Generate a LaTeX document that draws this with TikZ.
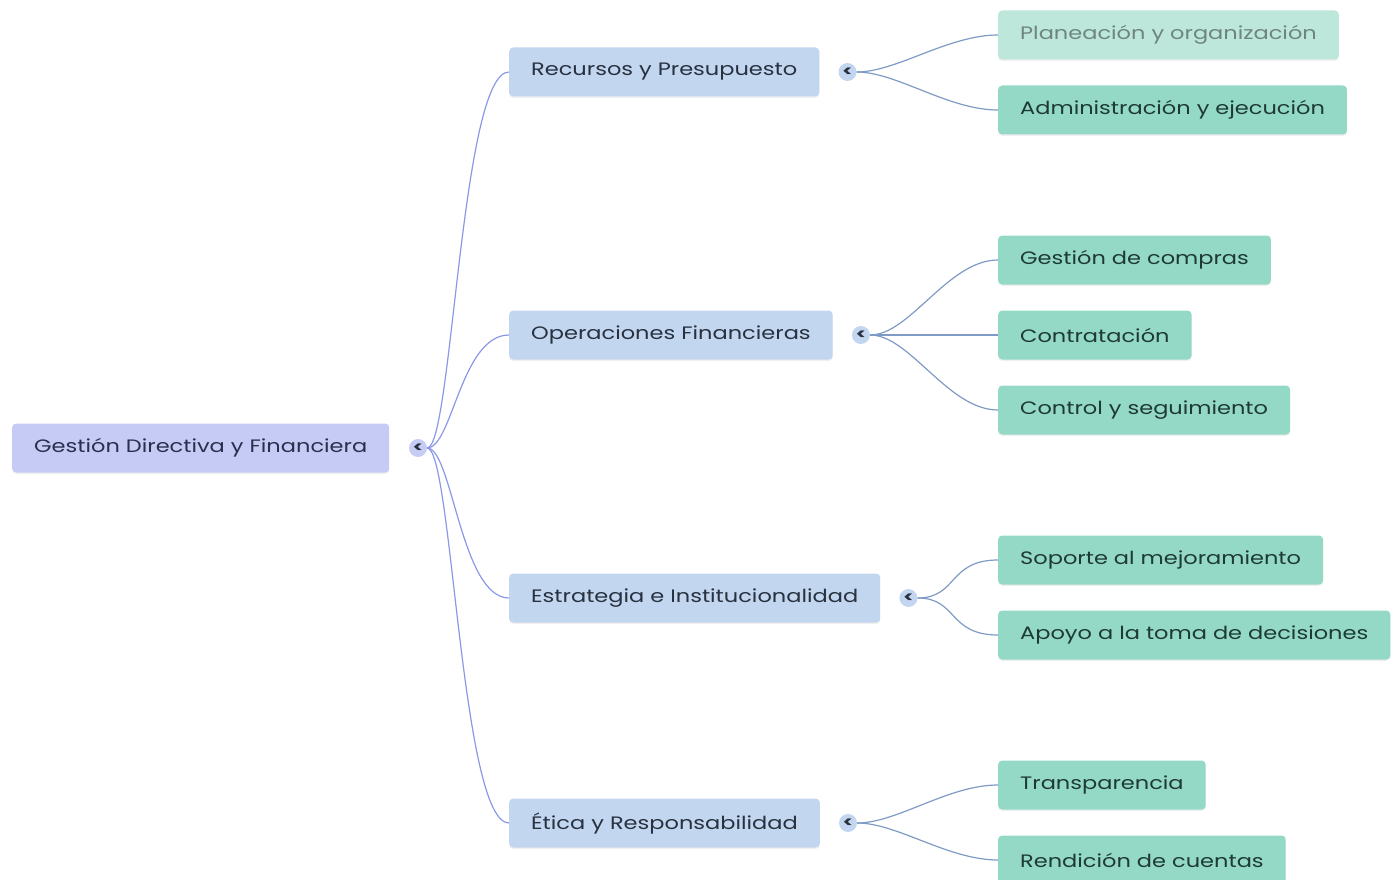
\documentclass[tikz,border=0pt]{standalone}
\usepackage{fontspec}
\setmainfont[FakeStretch=1.25]{Poppins}
\usetikzlibrary{shadows}
\definecolor{rootfill}{HTML}{C6CBF6}
\definecolor{lonefill}{HTML}{C3D6F0}
\definecolor{ltwofill}{HTML}{93D9C6}
\definecolor{ltwofade}{HTML}{BCE7DA}
\definecolor{rootedge}{HTML}{8A98E6}
\definecolor{oneedge}{HTML}{7F9AC4}
\definecolor{roottext}{HTML}{2A2F4E}
\definecolor{onetext}{HTML}{27313F}
\definecolor{twotext}{HTML}{1E3A33}
\definecolor{fadetext}{HTML}{6E8580}
\tikzset{
  box/.style={rounded corners=4pt, minimum height=49pt, inner xsep=22pt, inner ysep=0pt,
    anchor=west, font=\fontsize{18}{20}\selectfont,
    drop shadow={opacity=0.12, shadow xshift=0pt, shadow yshift=-1.5pt}},
  rootbox/.style={box, fill=rootfill, text=roottext},
  onebox/.style={box, fill=lonefill, text=onetext},
  twobox/.style={box, fill=ltwofill, text=twotext},
  fadebox/.style={box, fill=ltwofade, text=fadetext},
  marker/.style={circle, minimum size=18pt, inner sep=0pt, fill=lonefill, text=onetext,
    font=\fontsize{15}{15}\selectfont\bfseries},
  rootlink/.style={draw=rootedge, line width=1.2pt},
  onelink/.style={draw=oneedge, line width=1.2pt},
}
\begin{document}
\begin{tikzpicture}[x=1pt,y=-1pt]
\useasboundingbox (0,0) rectangle (1393,880);
% root
\node[rootbox] (root) at (12,448) {Gestión Directiva y Financiera};
\node[marker, fill=rootfill!80!lonefill] (m0) at (418,448) {<};
% level 1
\node[onebox] (r1) at (509,72) {Recursos y Presupuesto};
\node[onebox] (r2) at (509,335) {Operaciones Financieras};
\node[onebox] (r3) at (509,598) {Estrategia e Institucionalidad};
\node[onebox] (r4) at (509,823) {Ética y Responsabilidad};
\node[marker] (m1) at ([xshift=28pt]r1.east) {<};
\node[marker] (m2) at ([xshift=28pt]r2.east) {<};
\node[marker] (m3) at ([xshift=28pt]r3.east) {<};
\node[marker] (m4) at ([xshift=28pt]r4.east) {<};
% level 2
\node[fadebox] (a1) at (998,35) {Planeación y organización};
\node[twobox] (a2) at (998,110) {Administración y ejecución};
\node[twobox] (b1) at (998,260) {Gestión de compras};
\node[twobox] (b2) at (998,335) {Contratación};
\node[twobox] (b3) at (998,410) {Control y seguimiento};
\node[twobox] (c1) at (998,560) {Soporte al mejoramiento};
\node[twobox] (c2) at (998,635) {Apoyo a la toma de decisiones};
\node[twobox] (d1) at (998,785) {Transparencia};
\node[twobox] (d2) at (998,860) {Rendición de cuentas};
% root links
\foreach \t in {r1,r2,r3,r4}{
  \draw[rootlink] (m0.east) .. controls +(25,0) and +(-48,0) .. (\t.west);
}
% level-1 links
\foreach \m/\t in {m1/a1,m1/a2,m2/b1,m2/b2,m2/b3,m3/c1,m3/c2,m4/d1,m4/d2}{
  \draw[onelink] (\m.east) .. controls +(40,0) and +(-50,0) .. (\t.west);
}
\end{tikzpicture}
\end{document}
